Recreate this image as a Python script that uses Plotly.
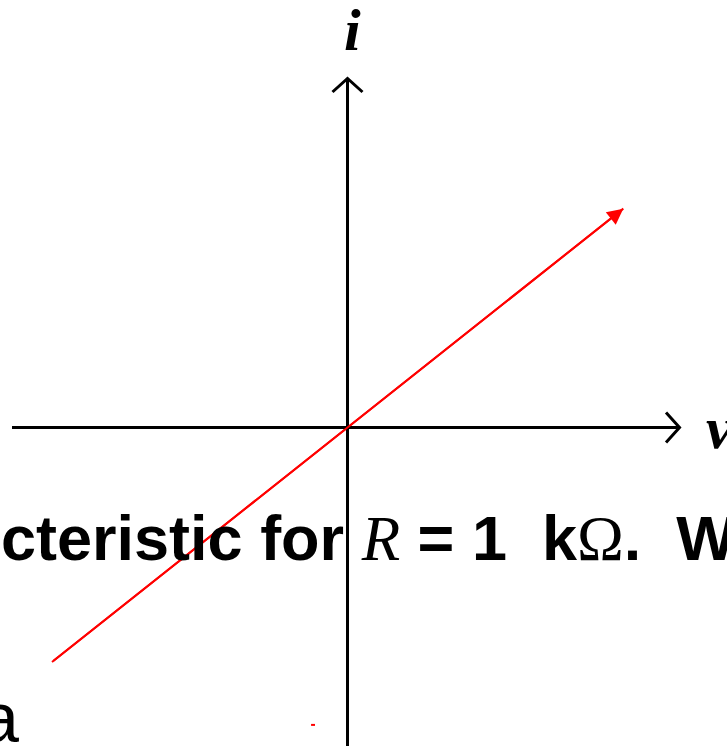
import plotly.graph_objects as go

# i-v characteristic of a 1 kOhm resistor (v in volts, i in milliamps)
v_volts = [-6.0, 5.6]
i_milliamps = [-6.0, 5.6]

# short stray pen stroke below the origin
stray_v = [-0.74, -0.66]
stray_i = [-7.61, -7.61]

W, H = 727, 746
ORIGIN_PX = (347.5, 427.5)      # where v = 0, i = 0 sits on the page
PX_PER_V, PX_PER_MA = 49.25, 39.08

x_range = [-ORIGIN_PX[0] / PX_PER_V, (W - ORIGIN_PX[0]) / PX_PER_V]
y_range = [-(H - ORIGIN_PX[1]) / PX_PER_MA, ORIGIN_PX[1] / PX_PER_MA]

# extent of the drawn coordinate axes (data units)
V_AXIS_LEFT, V_AXIS_TIP = -6.812, 6.772
I_AXIS_BOTTOM, I_AXIS_TIP = -8.6, 8.969

SANS = "Liberation Sans, Arial, sans-serif"
SERIF = "Liberation Serif, Times New Roman, serif"


def px(x, y):
    """page pixel -> paper coordinates"""
    return x / W, 1 - y / H


fig = go.Figure()

fig.add_trace(go.Scatter(
    x=v_volts, y=i_milliamps, mode="lines",
    line=dict(color="#ff0000", width=2), hoverinfo="skip",
))
fig.add_trace(go.Scatter(
    x=stray_v, y=stray_i, mode="lines",
    line=dict(color="#ff0000", width=2), hoverinfo="skip",
))

axis_line = dict(color="black", width=3)
shapes = [
    # v axis
    dict(type="line", xref="x", yref="y", x0=V_AXIS_LEFT, x1=V_AXIS_TIP - 0.02,
         y0=0, y1=0, line=axis_line),
    dict(type="path", xref="x", yref="y", xsizemode="pixel", ysizemode="pixel",
         xanchor=V_AXIS_TIP, yanchor=0, path="M-15,15 L-1.5,0 L-15,-15",
         line=axis_line),
    # i axis
    dict(type="line", xref="x", yref="y", x0=0, x1=0,
         y0=I_AXIS_BOTTOM, y1=I_AXIS_TIP - 0.03, line=axis_line),
    dict(type="path", xref="x", yref="y", xsizemode="pixel", ysizemode="pixel",
         xanchor=0, yanchor=I_AXIS_TIP, path="M-15,-15 L0,-1.5 L15,-15",
         line=axis_line),
]

annotations = []
# arrowhead at the positive end of the characteristic
annotations.append(dict(
    x=v_volts[1], y=i_milliamps[1], ax=v_volts[0], ay=i_milliamps[0],
    xref="x", yref="y", axref="x", ayref="y", text="",
    showarrow=True, arrowhead=2, arrowsize=1.6, arrowwidth=2,
    arrowcolor="#ff0000", standoff=0,
))

# axis labels
xi, yi = px(352, 30)
annotations.append(dict(
    x=xi, y=yi, xref="paper", yref="paper", xanchor="center", yanchor="middle",
    text="<b><i>i</i></b>", showarrow=False,
    font=dict(family=SERIF, size=60, color="black"),
))
xv, yv = px(704, 428)
annotations.append(dict(
    x=xv, y=yv, xref="paper", yref="paper", xanchor="left", yanchor="middle",
    text="<b><i>v</i></b>", showarrow=False,
    font=dict(family=SERIF, size=60, color="black"),
))

# sentence running behind the plot
serif_span = "<span style=\"font-family:Liberation Serif; font-weight:normal\">"
sentence = (
    "<b>cteristic for " + serif_span + "<i>R</i></span> = 1&nbsp; k"
    + serif_span + "Ω</span>.&nbsp; W</b>"
)
xs, ys = px(-1, 538)
annotations.append(dict(
    x=xs, y=ys, xref="paper", yref="paper", xanchor="left", yanchor="middle",
    text=sentence, showarrow=False,
    font=dict(family=SANS, size=63, color="black"),
))
xa, ya = px(21, 718)
annotations.append(dict(
    x=xa, y=ya, xref="paper", yref="paper", xanchor="right", yanchor="middle",
    text="a", showarrow=False,
    font=dict(family=SANS, size=70, color="black"),
))

fig.update_layout(
    width=W, height=H,
    margin=dict(l=0, r=0, t=0, b=0),
    paper_bgcolor="white", plot_bgcolor="white",
    showlegend=False,
    xaxis=dict(range=x_range, visible=False, fixedrange=True),
    yaxis=dict(range=y_range, visible=False, fixedrange=True),
    shapes=shapes,
    annotations=annotations,
)

fig.write_html("out.html", config={"displayModeBar": False})
